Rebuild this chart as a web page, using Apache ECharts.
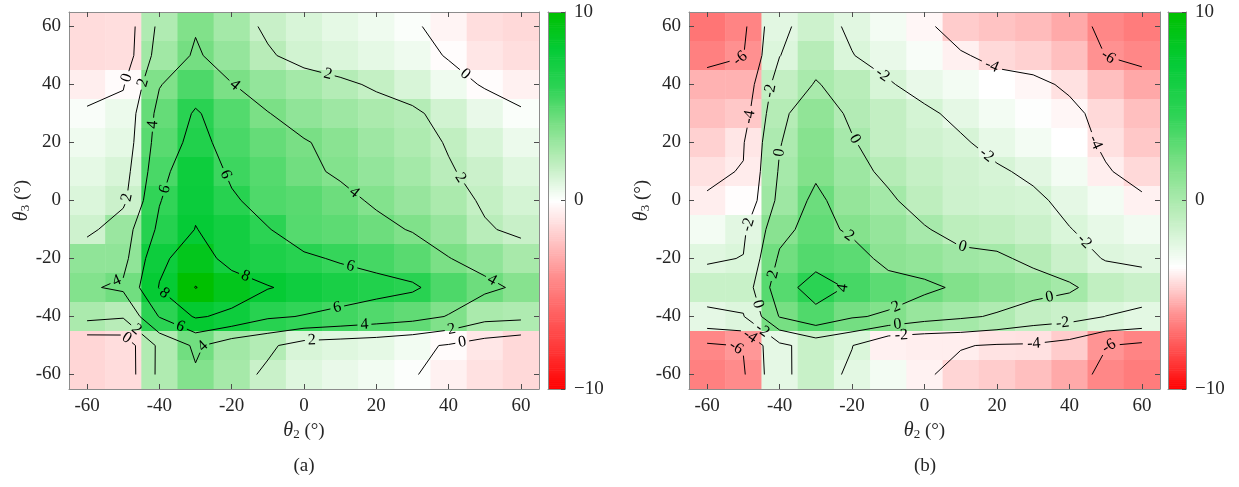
<!DOCTYPE html>
<html>
<head>
<meta charset="utf-8">
<script src="https://cdn.jsdelivr.net/npm/echarts@6.0.0/dist/echarts.min.js"></script>
<style>
  html, body { margin: 0; padding: 0; background: #fff; }
  #main { width: 1239px; height: 487px; }
</style>
</head>
<body>
<div id="main"></div>
<script>
// grid of the maps: theta2 across, theta3 down the rows (first row is theta3 = 60)
const theta2 = [-60, -50, -40, -30, -20, -10, 0, 10, 20, 30, 40, 50, 60];
const theta3 = [60, 50, 40, 30, 20, 10, 0, -10, -20, -30, -40, -50, -60];
const tickValues = [-60, -40, -20, 0, 20, 40, 60];
const contourLevels = [-10, -8, -6, -4, -2, 0, 2, 4, 6, 8, 10];

// map (a), one array per theta3 row
const valuesA = [
    [-1.3, -1.2, 2.44, 3.88, 2.8, 1.7, 1.2, 0.8, 0.5, 0.15, -0.4, -1.2, -1.4],
    [-1.3, -1.2, 2.9, 4.2, 3.25, 2.2, 1.4, 1.1, 0.8, 0.5, -0.1, -0.9, -1.2],
    [-0.6, -0.15, 3.9, 5.2, 4.05, 3.3, 2.8, 2.3, 1.8, 1.2, 0.5, -0.12, -0.5],
    [0.2, 0.6, 4.6, 6.18, 5.05, 4.05, 3.4, 3.0, 2.6, 2.3, 1.4, 0.7, 0.15],
    [0.5, 0.8, 4.9, 6.6, 5.3, 4.6, 4.1, 3.6, 3.0, 2.5, 1.9, 1.2, 0.6],
    [0.8, 1.2, 5.3, 7.6, 5.6, 5.0, 4.3, 3.8, 3.3, 2.8, 2.11, 1.6, 1.0],
    [1.1, 1.6, 5.9, 7.7, 6.3, 5.15, 4.9, 4.4, 3.8, 3.2, 2.6, 1.8, 1.3],
    [1.5, 3.1, 6.4, 8.05, 7.3, 6.1, 5.0, 4.8, 4.4, 3.9, 3.2, 2.15, 1.7],
    [3.4, 3.4, 7.6, 9.0, 7.3, 6.8, 6.3, 5.8, 5.4, 4.9, 4.05, 3.4, 2.7],
    [3.8, 4.3, 8.1, 10.05, 9.0, 8.1, 7.5, 7.0, 6.6, 6.25, 5.2, 4.4, 3.7],
    [2.6, 2.2, 6.1, 8.2, 7.6, 6.3, 5.9, 5.5, 5.1, 4.7, 3.9, 2.63, 2.46],
    [-1.5, -1.24, 2.42, 4.3, 2.87, 2.33, 1.2, 1.0, 0.8, 0.4, -0.15, -0.87, -1.4],
    [-1.5, -1.3, 2.45, 3.8, 2.74, 1.67, 1.0, 0.7, 0.4, 0.1, -0.5, -1.1, -1.4]
];

// map (b)
const valuesB = [
    [-6.8, -6.4, -2.3, -1.4, -2.25, -3.0, -3.7, -4.7, -4.9, -5.1, -5.5, -6.3, -6.6],
    [-6.5, -6.05, -2.05, -0.5, -1.95, -2.6, -3.2, -3.85, -4.4, -4.6, -5.0, -6.02, -6.3],
    [-5.3, -5.3, -1.0, 0.1, -0.6, -1.85, -2.6, -3.0, -3.5, -3.7, -4.2, -5.0, -5.53],
    [-5.0, -4.8, -0.4, 1.1, -0.35, -1.0, -1.7, -2.4, -3.0, -3.4, -3.7, -4.4, -5.0],
    [-4.6, -4.1, -0.1, 1.5, 0.15, -1.0, -1.5, -1.8, -2.5, -3.0, -3.5, -4.2, -4.8],
    [-4.2, -3.94, 0.2, 1.68, 0.6, -0.4, -1.1, -1.5, -1.8, -2.3, -3.0, -3.9, -4.4],
    [-3.9, -3.55, 0.53, 2.46, 0.93, 0.3, -0.8, -1.4, -1.6, -1.7, -2.4, -3.0, -3.83],
    [-3.0, -2.3, 1.4, 2.8, 1.6, 0.9, 0.15, -0.7, -0.9, -1.3, -1.95, -2.5, -2.9],
    [-2.2, -1.95, 2.3, 3.32, 3.0, 1.3, 1.0, 0.5, 0.3, -0.4, -1.3, -2.1, -2.3],
    [-1.2, -1.2, 3.2, 4.8, 3.75, 3.0, 2.4, 1.7, 1.2, 0.8, 0.3, -0.9, -1.3],
    [-2.4, -2.1, 2.1, 3.42, 2.2, 1.72, 0.8, 0.3, -0.2, -1.0, -1.3, -2.02, -2.33],
    [-6.3, -5.9, -2.4, -1.2, -1.95, -3.83, -3.9, -3.9, -4.15, -4.2, -4.7, -5.95, -6.4],
    [-6.5, -6.2, -2.41, -1.2, -2.33, -3.0, -3.8, -4.5, -4.7, -5.0, -5.5, -6.3, -6.6]
];

const FONT = 'Liberation Serif';

// red - white - green map, s in [-1, 1]
const cmapStops = [
    [-1, [255, 0, 0]], [-0.8, [255, 52, 52]], [-0.6, [255, 96, 96]], [-0.4, [255, 142, 142]],
    [-0.2, [255, 200, 200]], [0, [255, 255, 255]], [0.2, [190, 238, 190]], [0.4, [125, 224, 135]],
    [0.6, [45, 211, 85]], [0.8, [5, 203, 55]], [1, [0, 192, 0]]
];

function cmap(s) {
    s = Math.max(-1, Math.min(1, s));
    for (let i = 1; i < cmapStops.length; i++) {
        if (s <= cmapStops[i][0]) {
            const a = cmapStops[i - 1], b = cmapStops[i];
            const f = (s - a[0]) / (b[0] - a[0]);
            const c = a[1].map((v, k) => Math.round(v + f * (b[1][k] - v)));
            return 'rgb(' + c.join(',') + ')';
        }
    }
    return 'rgb(0,192,0)';
}

// colour list for a visualMap on [-10, 10] whose white sits at `white`
function colorList(white) {
    const out = [];
    for (let v = -10; v <= 10.001; v += 0.25) {
        out.push(cmap(v >= white ? (v - white) / (10 - white) : (v - white) / (white + 10)));
    }
    return out;
}

function cellData(values) {
    const out = [];
    values.forEach((row, r) => row.forEach((v, c) => out.push([theta2[c], theta3[r], v])));
    return out;
}

function barData() {
    const out = [];
    for (let k = 0; k < 200; k++) out.push([0.5, -10 + (k + 0.5) * 0.1, -10 + (k + 0.5) * 0.1]);
    return out;
}

function renderCell(params, api) {
    const x = api.value(0), y = api.value(1);
    const p0 = api.coord([x - 5, y + 5]);
    const p1 = api.coord([x + 5, y - 5]);
    return {
        type: 'rect',
        shape: {x: p0[0], y: p0[1], width: p1[0] - p0[0] + 0.5, height: p1[1] - p0[1] + 0.5},
        style: {fill: api.visual('color')}
    };
}

function renderBar(params, api) {
    const v = api.value(1);
    const p0 = api.coord([0, v + 0.05]);
    const p1 = api.coord([1, v - 0.05]);
    return {
        type: 'rect',
        shape: {x: p0[0], y: p0[1], width: p1[0] - p0[0], height: p1[1] - p0[1] + 0.6},
        style: {fill: api.visual('color')}
    };
}

// marching squares on the cell centres, returns polylines in data coords
function traceContours(Z, level) {
    const R = Z.length, C = Z[0].length;
    const val = (r, c) => (Z[r][c] === level ? level + 1e-9 : Z[r][c]);
    const points = {};
    function edge(key, r1, c1, r2, c2) {
        if (!points[key]) {
            const z1 = val(r1, c1), z2 = val(r2, c2);
            const t = (level - z1) / (z2 - z1);
            points[key] = [theta2[c1] + t * (theta2[c2] - theta2[c1]), theta3[r1] + t * (theta3[r2] - theta3[r1])];
        }
        return key;
    }
    const segs = [];
    for (let r = 0; r < R - 1; r++) {
        for (let c = 0; c < C - 1; c++) {
            const tl = val(r, c), tr = val(r, c + 1), br = val(r + 1, c + 1), bl = val(r + 1, c);
            const idx = (tl >= level ? 8 : 0) | (tr >= level ? 4 : 0) | (br >= level ? 2 : 0) | (bl >= level ? 1 : 0);
            if (idx === 0 || idx === 15) continue;
            const T = () => edge('h' + r + '_' + c, r, c, r, c + 1);
            const B = () => edge('h' + (r + 1) + '_' + c, r + 1, c, r + 1, c + 1);
            const L = () => edge('v' + r + '_' + c, r, c, r + 1, c);
            const Rt = () => edge('v' + r + '_' + (c + 1), r, c + 1, r + 1, c + 1);
            const center = (tl + tr + br + bl) / 4 >= level;
            switch (idx) {
                case 1: case 14: segs.push([L(), B()]); break;
                case 2: case 13: segs.push([B(), Rt()]); break;
                case 3: case 12: segs.push([L(), Rt()]); break;
                case 4: case 11: segs.push([T(), Rt()]); break;
                case 6: case 9: segs.push([T(), B()]); break;
                case 7: case 8: segs.push([L(), T()]); break;
                case 5:
                    if (center) { segs.push([L(), T()]); segs.push([B(), Rt()]); }
                    else { segs.push([T(), Rt()]); segs.push([L(), B()]); }
                    break;
                case 10:
                    if (center) { segs.push([T(), Rt()]); segs.push([L(), B()]); }
                    else { segs.push([L(), T()]); segs.push([B(), Rt()]); }
                    break;
            }
        }
    }
    const adj = {};
    segs.forEach((s, i) => {
        (adj[s[0]] = adj[s[0]] || []).push(i);
        (adj[s[1]] = adj[s[1]] || []).push(i);
    });
    const used = segs.map(() => false);
    function walk(start) {
        const keys = [start];
        let cur = start;
        for (;;) {
            const next = adj[cur].find(i => !used[i]);
            if (next === undefined) break;
            used[next] = true;
            cur = segs[next][0] === cur ? segs[next][1] : segs[next][0];
            keys.push(cur);
        }
        return keys.map(k => points[k]);
    }
    const paths = [];
    Object.keys(adj).forEach(k => {
        if (adj[k].length === 1 && !used[adj[k][0]]) paths.push(walk(k));
    });
    segs.forEach((s, i) => { if (!used[i]) paths.push(walk(s[0])); });
    return paths;
}

// inline labels: cut a gap in the line and put the level text in it
function labelPath(path, toPx, text, spacing, pieces, labels) {
    const px = path.map(toPx);
    const cum = [0];
    for (let i = 1; i < px.length; i++) {
        cum.push(cum[i - 1] + Math.hypot(px[i][0] - px[i - 1][0], px[i][1] - px[i - 1][1]));
    }
    const total = cum[cum.length - 1];
    if (total < 40) { pieces.push(path); return; }
    const at = s => {
        s = Math.max(0, Math.min(total, s));
        let i = 0;
        while (i < cum.length - 2 && cum[i + 1] < s) i++;
        const d = cum[i + 1] - cum[i];
        const f = d > 0 ? (s - cum[i]) / d : 0;
        return {
            d: [path[i][0] + f * (path[i + 1][0] - path[i][0]), path[i][1] + f * (path[i + 1][1] - path[i][1])],
            p: [px[i][0] + f * (px[i + 1][0] - px[i][0]), px[i][1] + f * (px[i + 1][1] - px[i][1])]
        };
    };
    const sub = (a, b) => {
        const out = [at(a).d];
        for (let i = 0; i < cum.length; i++) if (cum[i] > a && cum[i] < b) out.push(path[i]);
        out.push(at(b).d);
        return out;
    };
    const n = Math.max(1, Math.round(total / spacing));
    const half = text.length * 4 + 3;
    let from = 0;
    for (let k = 0; k < n; k++) {
        const s = (k + 0.5) * total / n;
        if (s - half > from) pieces.push(sub(from, s - half));
        from = s + half;
        const p1 = at(s - half).p, p2 = at(s + half).p;
        let rot = Math.atan2(-(p2[1] - p1[1]), p2[0] - p1[0]);
        if (rot > Math.PI / 2) rot -= Math.PI;
        if (rot < -Math.PI / 2) rot += Math.PI;
        labels.push({pos: at(s).d, rot: rot, text: text});
    }
    if (from < total) pieces.push(sub(from, total));
}

function plotAxes(gridIndex) {
    const line = {show: true, onZero: false, lineStyle: {color: '#8c8c8c', width: 1}};
    const tick = {show: true, inside: true, length: 5, customValues: tickValues, lineStyle: {color: '#4d4d4d'}};
    const label = {customValues: tickValues, margin: 8, color: '#262626', fontFamily: FONT, fontSize: 19};
    const nameStyle = {
        color: '#262626', fontFamily: FONT, fontSize: 19,
        rich: {
            i: {fontStyle: 'italic', fontFamily: FONT, fontSize: 20, color: '#262626'},
            s: {fontFamily: FONT, fontSize: 13, color: '#262626', verticalAlign: 'bottom', lineHeight: 14},
            n: {fontFamily: FONT, fontSize: 19, color: '#262626'}
        }
    };
    const base = {gridIndex, type: 'value', min: -65, max: 65, z: 10, splitLine: {show: false}, axisLine: line, axisTick: tick};
    return {
        x: [
            Object.assign({}, base, {position: 'bottom', axisLabel: label,
                name: '{i|θ}{s|2}{n| (°)}', nameLocation: 'middle', nameGap: 32, nameTextStyle: nameStyle}),
            Object.assign({}, base, {position: 'top', axisLabel: {show: false}})
        ],
        y: [
            Object.assign({}, base, {position: 'left', axisLabel: label,
                name: '{i|θ}{s|3}{n| (°)}', nameLocation: 'middle', nameGap: 37, nameRotate: 90, nameTextStyle: nameStyle}),
            Object.assign({}, base, {position: 'right', axisLabel: {show: false}})
        ]
    };
}

function barAxes(gridIndex) {
    const line = {show: true, onZero: false, lineStyle: {color: '#8c8c8c', width: 1}};
    const hidden = {gridIndex, type: 'value', min: 0, max: 1, z: 10, splitLine: {show: false},
        axisLine: line, axisTick: {show: false}, axisLabel: {show: false}};
    const yBase = {gridIndex, type: 'value', min: -10, max: 10, interval: 10, z: 10, splitLine: {show: false}, axisLine: line};
    return {
        x: [Object.assign({}, hidden, {position: 'bottom'}), Object.assign({}, hidden, {position: 'top'})],
        y: [
            Object.assign({}, yBase, {position: 'left', axisTick: {show: false}, axisLabel: {show: false}}),
            Object.assign({}, yBase, {position: 'right',
                axisTick: {show: true, inside: true, length: 4, lineStyle: {color: '#4d4d4d'}},
                axisLabel: {margin: 9, color: '#262626', fontFamily: FONT, fontSize: 19,
                    formatter: v => (v < 0 ? '\u2212' + Math.abs(v) : String(v))}})
        ]
    };
}

const chart = echarts.init(document.getElementById('main'));

const axA = plotAxes(0), axB = plotAxes(1), cbA = barAxes(2), cbB = barAxes(3);
const xAxes = [].concat(axA.x, axB.x, cbA.x, cbB.x);
const yAxes = [].concat(axA.y, axB.y, cbA.y, cbB.y);

const baseSeries = [
    {type: 'custom', xAxisIndex: 0, yAxisIndex: 0, renderItem: renderCell, data: cellData(valuesA), clip: true, silent: true},
    {type: 'custom', xAxisIndex: 2, yAxisIndex: 2, renderItem: renderCell, data: cellData(valuesB), clip: true, silent: true},
    {type: 'custom', xAxisIndex: 4, yAxisIndex: 4, renderItem: renderBar, data: barData(), clip: true, silent: true},
    {type: 'custom', xAxisIndex: 6, yAxisIndex: 6, renderItem: renderBar, data: barData(), clip: true, silent: true}
];

chart.setOption({
    animation: false,
    backgroundColor: '#fff',
    grid: [
        {left: 69, top: 12, width: 470, height: 377},
        {left: 689, top: 12, width: 471, height: 377},
        {left: 548, top: 12, width: 17, height: 377},
        {left: 1168, top: 12, width: 18, height: 377}
    ],
    xAxis: xAxes,
    yAxis: yAxes,
    visualMap: [
        {type: 'continuous', show: false, min: -10, max: 10, dimension: 2, seriesIndex: [0, 2], inRange: {color: colorList(0)}},
        {type: 'continuous', show: false, min: -10, max: 10, dimension: 2, seriesIndex: [1, 3], inRange: {color: colorList(-3.5)}}
    ],
    graphic: [
        {type: 'text', x: 304, y: 466, style: {text: '(a)', font: '19px ' + FONT, fill: '#262626', align: 'center', verticalAlign: 'middle'}},
        {type: 'text', x: 925, y: 466, style: {text: '(b)', font: '19px ' + FONT, fill: '#262626', align: 'center', verticalAlign: 'middle'}}
    ],
    series: baseSeries
});

function contourSeries(values, gridIndex, xIdx, yIdx) {
    const toPx = p => chart.convertToPixel({gridIndex: gridIndex}, p);
    const pieces = [], labels = [];
    contourLevels.forEach(level => {
        traceContours(values, level).forEach(path => labelPath(path, toPx, String(level), 154, pieces, labels));
    });
    return [
        {
            type: 'lines', coordinateSystem: 'cartesian2d', xAxisIndex: xIdx, yAxisIndex: yIdx,
            polyline: true, silent: true, z: 5,
            lineStyle: {color: '#000', width: 1, opacity: 1},
            data: pieces.map(p => ({coords: p}))
        },
        {
            type: 'custom', xAxisIndex: xIdx, yAxisIndex: yIdx, silent: true, z: 6,
            data: labels.map(l => l.pos),
            renderItem: (params, api) => {
                const l = labels[params.dataIndex];
                const p = api.coord(l.pos);
                return {
                    type: 'text', x: p[0], y: p[1], rotation: l.rot,
                    style: {text: l.text, font: '16px ' + FONT, fill: '#000', align: 'center', verticalAlign: 'middle'}
                };
            }
        }
    ];
}

chart.setOption({
    series: baseSeries.concat(contourSeries(valuesA, 0, 0, 0), contourSeries(valuesB, 1, 2, 2))
});
</script>
</body>
</html>
